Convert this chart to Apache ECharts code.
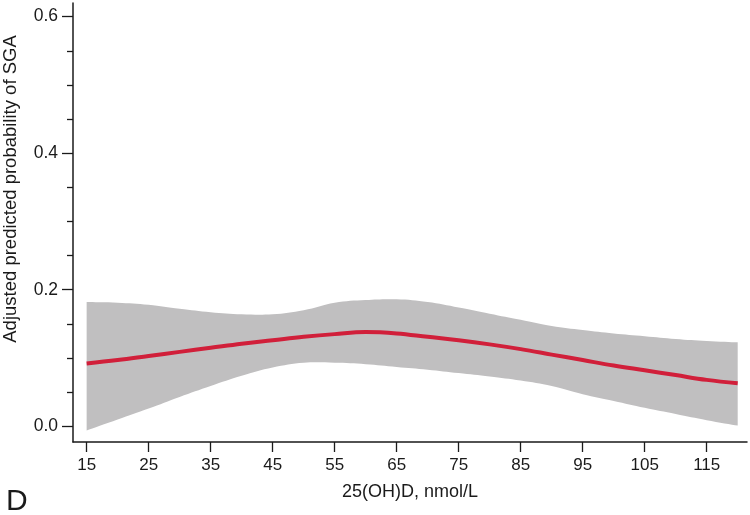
<!DOCTYPE html>
<html>
<head>
<meta charset="utf-8">
<script src="https://cdn.jsdelivr.net/npm/echarts@6/dist/echarts.min.js"></script>
<style>
html,body{margin:0;padding:0;background:#fff;}
#chart{width:750px;height:515px;}
</style>
</head>
<body>
<div id="chart"></div>
<script>
// Data
var xVals     = [15, 20, 25, 30, 35, 40, 45, 50, 55, 60, 65, 70, 75, 80, 85, 90, 95, 100, 105, 110, 115, 120];
var fitVals   = [0.092, 0.097, 0.103, 0.109, 0.115, 0.121, 0.126, 0.131, 0.135, 0.138, 0.136, 0.131, 0.126, 0.120, 0.113, 0.105, 0.097, 0.089, 0.082, 0.075, 0.068, 0.063];
var lowerVals = [-0.006, 0.010, 0.026, 0.043, 0.059, 0.074, 0.086, 0.093, 0.093, 0.091, 0.087, 0.083, 0.078, 0.073, 0.067, 0.059, 0.047, 0.037, 0.027, 0.018, 0.009, 0.001];
var upperVals = [0.182, 0.181, 0.178, 0.172, 0.167, 0.164, 0.164, 0.170, 0.181, 0.185, 0.186, 0.182, 0.174, 0.165, 0.156, 0.147, 0.141, 0.136, 0.132, 0.128, 0.125, 0.123];
var xTickLabels = [15, 25, 35, 45, 55, 65, 75, 85, 95, 105, 115];
var yMajorTicks = [0, 0.2, 0.4, 0.6];
var yMinorTicks = [0.05, 0.1, 0.15, 0.25, 0.3, 0.35, 0.45, 0.5, 0.55];
var xTitle = '25(OH)D, nmol/L';
var yTitle = 'Adjusted predicted probability of SGA';
var panelLabel = 'D';

var bandData = xVals.map(function (x, i) { return [x, lowerVals[i], upperVals[i]]; });
var fitData = xVals.map(function (x, i) { return [x, fitVals[i]]; });

var FONT = 'Liberation Sans, Arial, Helvetica, sans-serif';
var INK = '#1a1a1a';

// Catmull-Rom to cubic Bezier path segments through pixel points
function smoothSegs(p, first) {
  var d = (first ? 'M' : 'L') + p[0][0] + ',' + p[0][1];
  var t = 0.2;
  for (var i = 0; i < p.length - 1; i++) {
    var p0 = p[Math.max(i - 1, 0)], p1 = p[i], p2 = p[i + 1], p3 = p[Math.min(i + 2, p.length - 1)];
    var c1x = p1[0] + (p2[0] - p0[0]) * t, c1y = p1[1] + (p2[1] - p0[1]) * t;
    var c2x = p2[0] - (p3[0] - p1[0]) * t, c2y = p2[1] - (p3[1] - p1[1]) * t;
    d += 'C' + c1x + ',' + c1y + ' ' + c2x + ',' + c2y + ' ' + p2[0] + ',' + p2[1];
  }
  return d;
}

function renderBand(params, api) {
  if (params.dataIndex !== 0) return null;
  var upper = [], lower = [];
  for (var i = 0; i < xVals.length; i++) {
    upper.push(api.coord([xVals[i], upperVals[i]]));
    lower.push(api.coord([xVals[i], lowerVals[i]]));
  }
  var d = smoothSegs(upper, true) + smoothSegs(lower.reverse(), false) + 'Z';
  return {
    type: 'path',
    shape: {pathData: d},
    style: {fill: '#c0bfc0', stroke: null}
  };
}

var chart = echarts.init(document.getElementById('chart'), null, {renderer: 'canvas'});
chart.setOption({
  animation: false,
  backgroundColor: '#ffffff',
  grid: {left: 73, right: 3, top: 3, bottom: 73, containLabel: false},
  xAxis: {
    type: 'value', min: 12.8, max: 121.5,
    splitLine: {show: false},
    axisLine: {show: true, onZero: false, lineStyle: {color: INK, width: 1.5}},
    axisTick: {show: true, inside: false, length: 10, customValues: xTickLabels, lineStyle: {color: INK, width: 1.3}},
    axisLabel: {customValues: xTickLabels, margin: 15, fontSize: 17, color: INK, fontFamily: FONT},
    name: xTitle, nameLocation: 'middle', nameGap: 41,
    nameTextStyle: {fontSize: 18, color: INK, fontFamily: FONT, verticalAlign: 'top'}
  },
  yAxis: [{
    type: 'value', min: -0.023, max: 0.62,
    splitLine: {show: false},
    axisLine: {show: true, onZero: false, lineStyle: {color: INK, width: 1.5}},
    axisTick: {show: true, inside: false, length: 11, customValues: yMajorTicks, lineStyle: {color: INK, width: 1.3}},
    axisLabel: {customValues: yMajorTicks, margin: 15, fontSize: 17.5, color: INK, fontFamily: FONT,
      formatter: function (v) { return v.toFixed(1); }}
  }, {
    type: 'value', min: -0.023, max: 0.62, position: 'left', offset: 0,
    splitLine: {show: false},
    axisLine: {show: false},
    axisTick: {show: true, inside: false, length: 6, customValues: yMinorTicks, lineStyle: {color: INK, width: 1.3}},
    axisLabel: {show: false}
  }],
  graphic: [{
    type: 'text', x: 11, y: 189, rotation: Math.PI / 2,
    style: {text: yTitle, fontSize: 18.5, fill: INK, fontFamily: FONT, align: 'center', verticalAlign: 'middle'}
  }, {
    type: 'text', x: 6, y: 502,
    style: {text: panelLabel, fontSize: 30, fill: INK, fontFamily: FONT, align: 'left', verticalAlign: 'middle'}
  }],
  series: [{
    type: 'custom', data: bandData, renderItem: renderBand, silent: true, z: 1,
    encode: {x: 0, y: [1, 2]}
  }, {
    type: 'line', data: fitData, symbol: 'none', smooth: 0.4,
    lineStyle: {color: '#d11f3a', width: 4}, z: 3
  }]
});
</script>
</body>
</html>
